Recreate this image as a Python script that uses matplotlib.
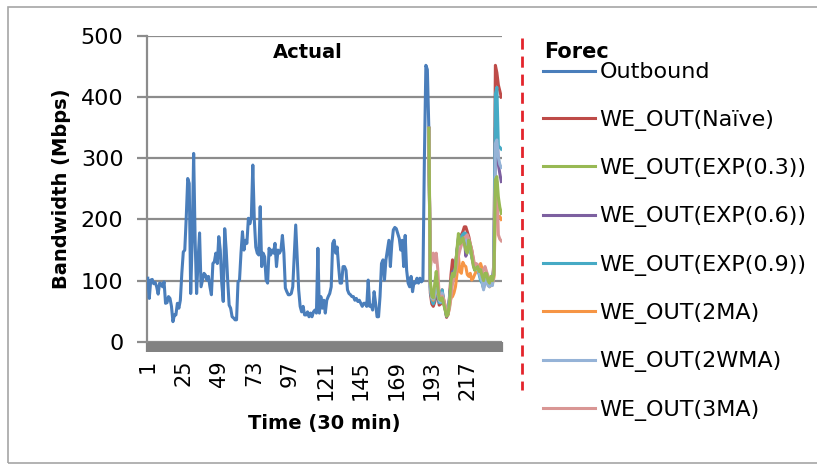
import numpy as np
import matplotlib
matplotlib.use("Agg")
import matplotlib.pyplot as plt
from matplotlib.lines import Line2D
from matplotlib.patches import Rectangle

# measured outbound bandwidth, one value per 30 min slot (slots 1..191)
outbound = [
    104, 71, 101, 102, 95, 97, 90, 78, 96, 95,
    90, 98, 63, 64, 74, 71, 58, 33, 44, 44,
    63, 55, 68, 112, 147, 150, 204, 267, 259, 79,
    166, 308, 166, 79, 134, 178, 90, 101, 112, 109,
    101, 107, 90, 77, 128, 131, 145, 128, 172, 150,
    96, 66, 185, 150, 101, 60, 55, 41, 39, 36,
    36, 98, 101, 145, 180, 150, 166, 161, 202, 193,
    204, 289, 200, 155, 145, 142, 221, 123, 145, 139,
    101, 96, 153, 142, 150, 145, 161, 123, 150, 145,
    150, 174, 145, 88, 82, 77, 77, 79, 90, 139,
    191, 139, 85, 58, 49, 58, 44, 44, 49, 41,
    47, 41, 49, 52, 47, 153, 47, 74, 55, 68,
    47, 68, 74, 79, 90, 161, 166, 145, 155, 123,
    96, 96, 123, 123, 117, 85, 79, 77, 74, 74,
    68, 71, 66, 68, 63, 58, 63, 63, 58, 101,
    58, 60, 52, 82, 63, 41, 41, 74, 128, 134,
    101, 134, 150, 166, 123, 161, 183, 187, 185, 177,
    169, 150, 166, 123, 174, 117, 96, 90, 107, 82,
    98, 96, 104, 96, 104, 98, 101, 300, 452, 445,
    349,
]

# forecasts for slots 191..240
we_naive = [349, 80, 62, 58, 65, 75, 78, 60, 62, 85,
            65, 55, 40, 47, 75, 110, 134, 115, 125, 148,
            165, 170, 175, 180, 188, 188, 180, 172, 160, 150,
            135, 118, 118, 125, 112, 115, 100, 88, 108, 110,
            95, 92, 100, 98, 130, 452, 440, 420, 410, 400]
we_exp03 = [349, 100, 75, 72, 95, 115, 90, 70, 68, 72,
            62, 52, 42, 45, 65, 100, 112, 107, 120, 150,
            177, 160, 165, 170, 160, 150, 145, 166, 158, 140,
            125, 117, 120, 123, 115, 118, 108, 100, 112, 112,
            100, 96, 107, 100, 110, 265, 270, 237, 220, 210]
we_exp06 = [349, 90, 70, 66, 80, 95, 85, 66, 66, 80,
            65, 54, 42, 46, 70, 98, 115, 110, 120, 148,
            170, 165, 168, 172, 172, 140, 150, 158, 152, 140,
            128, 118, 119, 123, 112, 110, 100, 92, 108, 110,
            96, 94, 102, 98, 118, 350, 345, 290, 275, 262]
we_exp09 = [349, 85, 68, 62, 70, 85, 80, 64, 64, 85,
            68, 56, 42, 46, 72, 95, 110, 112, 122, 145,
            168, 168, 172, 176, 178, 177, 170, 161, 150, 140,
            132, 120, 119, 124, 110, 100, 96, 88, 105, 108,
            94, 93, 98, 97, 125, 405, 416, 320, 318, 315]
we_2ma = [349, 95, 72, 68, 75, 85, 82, 70, 66, 72,
          70, 58, 48, 44, 58, 72, 74, 80, 90, 110,
          140, 115, 112, 130, 125, 123, 110, 107, 112, 101,
          104, 110, 115, 118, 122, 128, 120, 105, 112, 108,
          100, 90, 92, 95, 105, 215, 210, 204, 205, 200]
we_2wma = [349, 88, 72, 70, 78, 88, 84, 68, 65, 80,
           66, 55, 44, 46, 68, 90, 105, 108, 118, 140,
           165, 160, 165, 168, 170, 168, 160, 155, 150, 140,
           130, 120, 118, 122, 112, 105, 98, 85, 100, 105,
           92, 90, 95, 92, 115, 324, 330, 302, 290, 285]
we_3ma = [349, 120, 140, 145, 130, 145, 120, 75, 70, 75,
          70, 60, 50, 46, 55, 75, 95, 105, 112, 125,
          140, 150, 158, 165, 170, 172, 175, 168, 160, 150,
          138, 125, 128, 126, 120, 118, 110, 118, 123, 115,
          108, 100, 102, 100, 108, 250, 262, 175, 168, 165]

n_slots = 240
forecast_start = 191
tick_labels = [1, 25, 49, 73, 97, 121, 145, 169, 193, 217]

series = [
    ("Outbound", outbound, 1, "#4a7ebb", 3),
    ("WE_OUT(Naïve)", we_naive, forecast_start, "#be4b48", 3),
    ("WE_OUT(EXP(0.3))", we_exp03, forecast_start, "#98b954", 9),
    ("WE_OUT(EXP(0.6))", we_exp06, forecast_start, "#7d60a0", 3),
    ("WE_OUT(EXP(0.9))", we_exp09, forecast_start, "#46aac5", 3),
    ("WE_OUT(2MA)", we_2ma, forecast_start, "#f69545", 3),
    ("WE_OUT(2WMA)", we_2wma, forecast_start, "#95b3d7", 3),
    ("WE_OUT(3MA)", we_3ma, forecast_start, "#d99694", 3),
]

plt.rcParams["font.family"] = "DejaVu Sans"

fig = plt.figure(figsize=(8.17, 4.67), dpi=100)
ax = fig.add_axes([0.18, 0.268, 0.4345, 0.655])

handles = []
for name, vals, start, color, z in series:
    x = np.arange(start, start + len(vals))
    ln, = ax.plot(x, vals, color=color, lw=2.2, zorder=z, label=name)
    handles.append(ln)

ax.set_xlim(0.5, n_slots + 0.5)
ax.set_ylim(0, 500)
ax.set_yticks(range(0, 501, 100))
ax.yaxis.grid(True, color="#8c8c8c", lw=1.6)
ax.set_axisbelow(True)
for s in ["top", "right", "bottom"]:
    ax.spines[s].set_visible(False)
ax.spines["left"].set_color("#8c8c8c")
ax.spines["left"].set_linewidth(1.6)
ax.tick_params(axis="y", length=7, width=1.6, color="#8c8c8c",
               labelsize=16, pad=10)

# one tick per slot -> dense band under the plot
ax.set_xticks(tick_labels)
ax.set_xticklabels([str(t) for t in tick_labels], rotation=90)
ax.tick_params(axis="x", which="major", length=0, labelsize=15, pad=13)
ax.set_xticks(np.arange(0.5, n_slots + 1, 1), minor=True)
ax.tick_params(axis="x", which="minor", length=7, width=1.6, color="#828282")

ax.set_ylabel("Bandwidth (Mbps)", fontsize=14, fontweight="bold", labelpad=7)
ax.set_xlabel("Time (30 min)", fontsize=14, fontweight="bold", labelpad=10)

fig.text(0.377, 0.888, "Actual", fontsize=14, fontweight="bold",
         ha="center", va="center")
fig.text(0.666, 0.889, "Forec", fontsize=15, fontweight="bold",
         ha="left", va="center")

# split between actual and forecast
fig.add_artist(Line2D([0.639, 0.639], [0.918, 0.165], color="#e3242b",
                      lw=2, ls=(0, (4, 2.5))))

# outer chart frame
fig.add_artist(Rectangle((8 / 817, 4 / 467), 1.0, 456 / 467, fill=False,
                         edgecolor="#a6a6a6", lw=1.2, transform=fig.transFigure))

fig.legend(handles=handles, loc="upper left", bbox_to_anchor=(0.651, 0.89),
           frameon=False, fontsize=16, labelspacing=1.23, handlelength=2.35,
           handletextpad=0.2, borderpad=0)

fig.savefig("out.png", dpi=100)
